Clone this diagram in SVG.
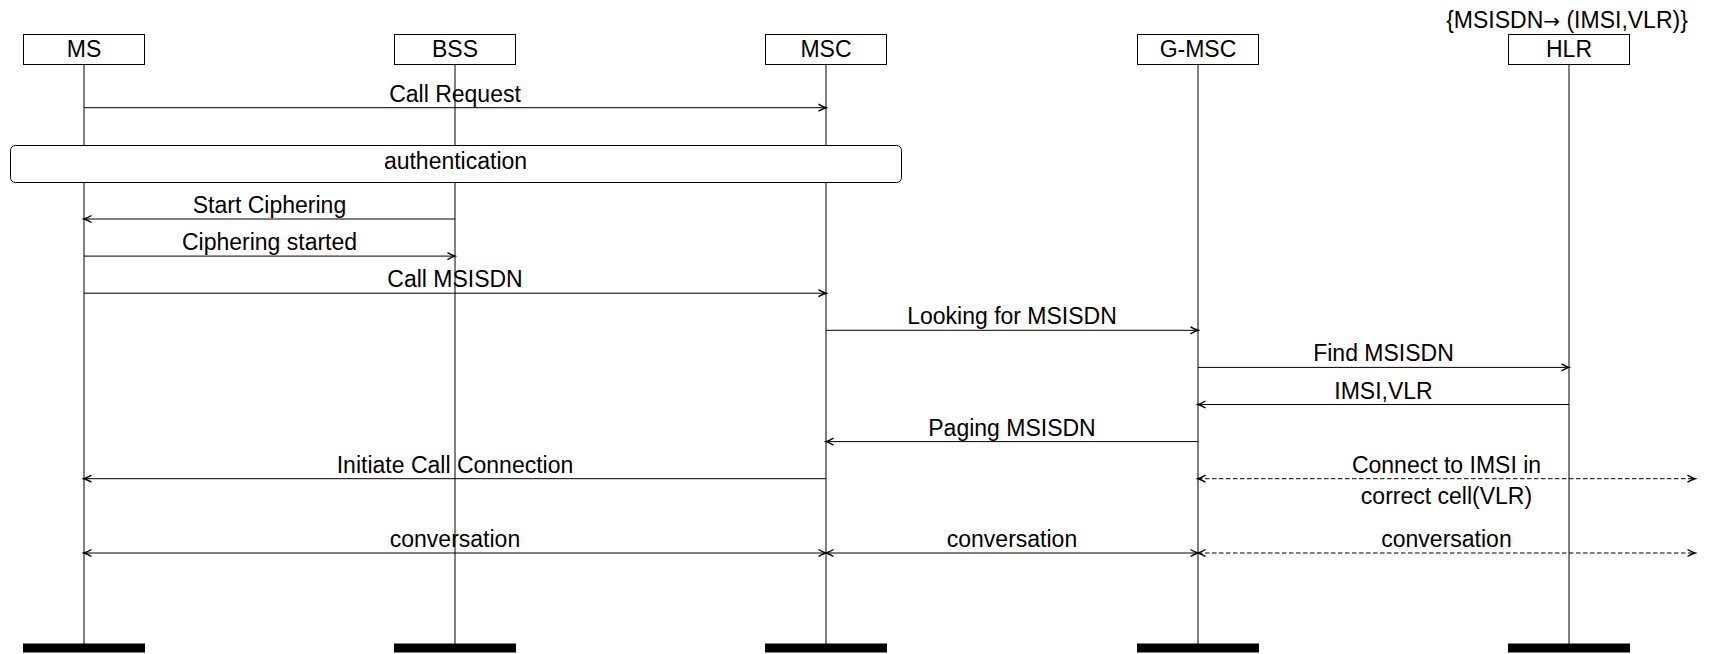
<svg xmlns="http://www.w3.org/2000/svg" width="1711" height="654" viewBox="0 0 1711 654">
  <style>
    text { font-family: "Liberation Sans", Arial, sans-serif; font-size: 23px; fill: #000; text-anchor: middle; }
    .sym { font-family: "DejaVu Sans", sans-serif; font-size: 20px; }
    .box { fill: #fff; stroke: #000; stroke-width: 1; }
    .life { stroke: #000; stroke-width: 1; }
    .end { fill: #000; }
    .msg { stroke: #000; stroke-width: 1; fill: none; marker-end: url(#head); }
    .both { marker-start: url(#head); }
    .dash { stroke-dasharray: 4.5 2.5; }
    .frame { fill: #fff; stroke: #000; stroke-width: 1; }
  </style>
  <defs>
    <marker id="head" markerUnits="userSpaceOnUse" markerWidth="12" markerHeight="10" viewBox="-10 -5 12 10" refX="0" refY="0" orient="auto-start-reverse">
      <path d="M-7.5,-3.5 Q-3,-0.8 0,0 Q-3,0.8 -7.5,3.5" fill="none" stroke="#000" stroke-width="1.4"/>
    </marker>
  </defs>

  <rect width="1711" height="654" fill="#fff"/>

  <!-- lifelines -->
  <g id="lifelines">
    <line class="life" x1="84" y1="64" x2="84" y2="644"/>
    <line class="life" x1="455" y1="64" x2="455" y2="644"/>
    <line class="life" x1="826" y1="64" x2="826" y2="644"/>
    <line class="life" x1="1198" y1="64" x2="1198" y2="644"/>
    <line class="life" x1="1569" y1="64" x2="1569" y2="644"/>
  </g>

  <!-- instances with head boxes and end bars -->
  <g id="ms">
    <rect class="box" x="23.5" y="34.5" width="121" height="30"/>
    <text x="84" y="57">MS</text>
    <rect class="end" x="23" y="643.5" width="122" height="9"/>
  </g>
  <g id="bss">
    <rect class="box" x="394.5" y="34.5" width="121" height="30"/>
    <text x="455" y="57">BSS</text>
    <rect class="end" x="394" y="643.5" width="122" height="9"/>
  </g>
  <g id="msc">
    <rect class="box" x="765.5" y="34.5" width="121" height="30"/>
    <text x="826" y="57">MSC</text>
    <rect class="end" x="765" y="643.5" width="122" height="9"/>
  </g>
  <g id="gmsc">
    <rect class="box" x="1137.5" y="34.5" width="121" height="30"/>
    <text x="1198" y="57">G-MSC</text>
    <rect class="end" x="1137" y="643.5" width="122" height="9"/>
  </g>
  <g id="hlr">
    <text x="1567" y="28">{MSISDN<tspan class="sym">→</tspan> (IMSI,VLR)}</text>
    <rect class="box" x="1508.5" y="34.5" width="121" height="30"/>
    <text x="1569" y="57">HLR</text>
    <rect class="end" x="1508" y="643.5" width="122" height="9"/>
  </g>

  <!-- authentication reference spanning MS..MSC -->
  <g id="authentication">
    <rect class="frame" x="10.5" y="145.5" width="891" height="37" rx="5" ry="5"/>
    <text x="455.5" y="169">authentication</text>
  </g>

  <!-- messages -->
  <g id="connectors">
    <line class="msg" x1="84" y1="107.7" x2="826" y2="107.7"/>
    <text x="455" y="101.7">Call Request</text>

    <line class="msg" x1="455" y1="219" x2="84" y2="219"/>
    <text x="269.5" y="213">Start Ciphering</text>

    <line class="msg" x1="84" y1="256.1" x2="455" y2="256.1"/>
    <text x="269.5" y="250.1">Ciphering started</text>

    <line class="msg" x1="84" y1="293.2" x2="826" y2="293.2"/>
    <text x="455" y="287.2">Call MSISDN</text>

    <line class="msg" x1="826" y1="330.3" x2="1198" y2="330.3"/>
    <text x="1012" y="324.3">Looking for MSISDN</text>

    <line class="msg" x1="1198" y1="367.4" x2="1569" y2="367.4"/>
    <text x="1383.5" y="361.4">Find MSISDN</text>

    <line class="msg" x1="1569" y1="404.5" x2="1198" y2="404.5"/>
    <text x="1383.5" y="398.5">IMSI,VLR</text>

    <line class="msg" x1="1198" y1="441.6" x2="826" y2="441.6"/>
    <text x="1012" y="435.6">Paging MSISDN</text>

    <line class="msg" x1="826" y1="478.7" x2="84" y2="478.7"/>
    <text x="455" y="472.7">Initiate Call Connection</text>

    <line class="msg both dash" x1="1198" y1="478.7" x2="1695" y2="478.7"/>
    <text x="1446.5" y="472.7">Connect to IMSI in</text>
    <text x="1446.5" y="504">correct cell(VLR)</text>

    <line class="msg both" x1="84" y1="553" x2="826" y2="553"/>
    <text x="455" y="547">conversation</text>

    <line class="msg both" x1="826" y1="553" x2="1198" y2="553"/>
    <text x="1012" y="547">conversation</text>

    <line class="msg both dash" x1="1198" y1="553" x2="1695" y2="553"/>
    <text x="1446.5" y="547">conversation</text>
  </g>
</svg>
